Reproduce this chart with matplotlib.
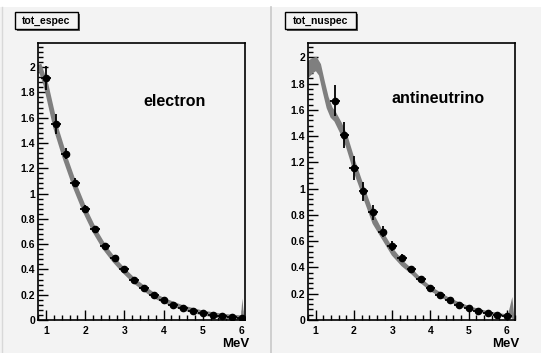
import matplotlib
matplotlib.use("Agg")
import matplotlib.pyplot as plt
from matplotlib.patches import Rectangle
from matplotlib.ticker import MultipleLocator

# electron spectrum: points, errors, fitted curve
e_x = [1.0, 1.25, 1.5, 1.75, 2.0, 2.25, 2.5, 2.75, 3.0, 3.25, 3.5, 3.75,
       4.0, 4.25, 4.5, 4.75, 5.0, 5.25, 5.5, 5.75, 6.0]
e_y = [1.915, 1.552, 1.315, 1.084, 0.88, 0.72, 0.587, 0.487, 0.40, 0.318, 0.25, 0.195,
       0.155, 0.12, 0.092, 0.071, 0.053, 0.042, 0.032, 0.024, 0.016]
e_err = [0.095, 0.08, 0.045, 0.035, 0.03, 0.022, 0.018, 0.015, 0.013, 0.011, 0.01, 0.009,
         0.008, 0.007, 0.006, 0.005, 0.005, 0.004, 0.004, 0.004, 0.004]
e_curve_x = [0.82, 1.0, 1.25, 1.5, 1.75, 2.0, 2.25, 2.5, 2.75, 3.0, 3.25, 3.5, 3.75,
             4.0, 4.5, 5.0, 5.5, 6.0]
e_curve_y = [2.02, 1.86, 1.52, 1.27, 1.05, 0.86, 0.70, 0.57, 0.47, 0.385, 0.31, 0.25, 0.195,
             0.155, 0.095, 0.055, 0.03, 0.016]
e_spike_x = [5.97, 6.01, 6.06]
e_spike_y = [0.0, 0.17, 0.0]

# antineutrino spectrum
nu_x = [1.5, 1.75, 2.0, 2.25, 2.5, 2.75, 3.0, 3.25, 3.5, 3.75, 4.0, 4.25,
        4.5, 4.75, 5.0, 5.25, 5.5, 5.75, 6.0]
nu_y = [1.672, 1.407, 1.158, 0.98, 0.819, 0.674, 0.565, 0.471, 0.387, 0.313, 0.247, 0.193,
        0.150, 0.115, 0.092, 0.071, 0.056, 0.041, 0.033]
nu_err = [0.117, 0.098, 0.088, 0.072, 0.055, 0.045, 0.038, 0.03, 0.025, 0.02, 0.015, 0.012,
          0.01, 0.009, 0.008, 0.007, 0.006, 0.006, 0.006]
nu_band_x = [0.8, 0.9, 1.0, 1.1, 1.2, 1.3, 1.4, 1.5, 1.65, 1.8, 2.0, 2.25, 2.5, 2.75,
             3.0, 3.25, 3.5, 3.75, 4.0, 4.5, 5.0, 5.5, 6.0]
nu_band_hi = [1.97, 1.99, 2.00, 1.95, 1.82, 1.70, 1.62, 1.58, 1.50, 1.40, 1.21, 1.00, 0.80, 0.66,
              0.54, 0.45, 0.385, 0.31, 0.25, 0.16, 0.10, 0.062, 0.038]
nu_band_lo = [1.86, 1.89, 1.91, 1.87, 1.74, 1.62, 1.55, 1.52, 1.43, 1.33, 1.14, 0.94, 0.74, 0.62,
              0.50, 0.42, 0.36, 0.29, 0.23, 0.145, 0.09, 0.052, 0.03]
nu_spike_x = [6.02, 6.14, 6.2]
nu_spike_y = [0.03, 0.175, 0.0]

bin_half = 0.125
bg = "#f3f3f3"
grey = "#7f7f7f"

plt.rcParams["font.family"] = ["Liberation Sans", "DejaVu Sans"]
plt.rcParams["font.weight"] = "bold"

fig = plt.figure(figsize=(5.41, 3.53), dpi=100)
fig.patch.set_facecolor(bg)
# white strip on top and pad divider
fig.patches.append(Rectangle((0, 1 - 7 / 353), 1, 7 / 353, transform=fig.transFigure,
                             facecolor="white", edgecolor="none", zorder=0))
fig.add_artist(plt.Line2D([271 / 541, 271 / 541], [0, 1 - 7 / 353], transform=fig.transFigure,
                          color="#c8c8c8", lw=1.2))
fig.add_artist(plt.Line2D([2 / 541, 2 / 541], [0, 1 - 7 / 353], transform=fig.transFigure,
                          color="#d8d8d8", lw=1))


def setup(ax, xlim, ylim):
    ax.set_facecolor(bg)
    ax.set_xlim(*xlim)
    ax.set_ylim(*ylim)
    ax.xaxis.set_major_locator(MultipleLocator(1))
    ax.xaxis.set_minor_locator(MultipleLocator(0.2))
    ax.yaxis.set_major_locator(MultipleLocator(0.2))
    ax.yaxis.set_minor_locator(MultipleLocator(0.04))
    ax.tick_params(which="both", direction="in", top=False, right=False, labelsize=7.5, width=1)
    ax.tick_params(which="major", length=7, pad=2)
    ax.tick_params(axis="x", which="major", pad=4)
    ax.tick_params(which="minor", length=3.5)
    ax.yaxis.set_major_formatter(plt.FuncFormatter(lambda v, p: ("%g" % round(v, 2))))
    for s in ax.spines.values():
        s.set_linewidth(1.2)
    ax.text(1.02, -0.066, "MeV", transform=ax.transAxes, ha="right", va="top", fontsize=9.5,
            fontweight="bold")


# left pad: electron
ax1 = fig.add_axes([38 / 541, 33 / 353, 207 / 541, 277 / 353])
setup(ax1, (0.796, 6.077), (0, 2.19))
ax1.plot(e_curve_x, e_curve_y, color=grey, lw=3.5, solid_capstyle="butt", zorder=2)
ax1.fill(e_spike_x, e_spike_y, color=grey, lw=0, zorder=2)
ax1.errorbar(e_x, e_y, xerr=bin_half, yerr=e_err, fmt="o", color="black", ms=4.5,
             elinewidth=1.3, capsize=0, zorder=3)
ax1.text(0.66, 0.79, "electron", transform=ax1.transAxes, ha="center", va="center",
         fontsize=11.5, fontweight="bold")

# right pad: antineutrino
ax2 = fig.add_axes([308 / 541, 33 / 353, 207 / 541, 277 / 353])
setup(ax2, (0.8, 6.21), (0, 2.11))
ax2.fill_between(nu_band_x, nu_band_lo, nu_band_hi, color=grey, lw=1.5, edgecolor=grey, zorder=2)
ax2.fill(nu_spike_x, nu_spike_y, color=grey, lw=0, zorder=2)
ax2.errorbar(nu_x, nu_y, xerr=bin_half, yerr=nu_err, fmt="o", color="black", ms=4.5,
             elinewidth=1.3, capsize=0, zorder=3)
ax2.text(0.63, 0.80, "antineutrino", transform=ax2.transAxes, ha="center", va="center",
         fontsize=11.5, fontweight="bold")

# title boxes with shadow
for x0, x1, label in [(15, 78, "tot_espec"), (285, 356, "tot_nuspec")]:
    w = (x1 - x0) / 541
    h = 17 / 353
    y0 = 1 - 29 / 353
    fig.patches.append(Rectangle((x0 / 541 + 2 / 541, y0 - 2 / 353), w, h, transform=fig.transFigure,
                                 facecolor="#555555", edgecolor="none", zorder=1))
    fig.patches.append(Rectangle((x0 / 541, y0), w, h, transform=fig.transFigure,
                                 facecolor=bg, edgecolor="black", lw=1, zorder=2))
    fig.text(x0 / 541 + w / 2, y0 + h / 2, label, ha="center", va="center", fontsize=7.5,
             fontweight="bold", zorder=3)

fig.savefig("out.png", dpi=100, facecolor=fig.get_facecolor())
